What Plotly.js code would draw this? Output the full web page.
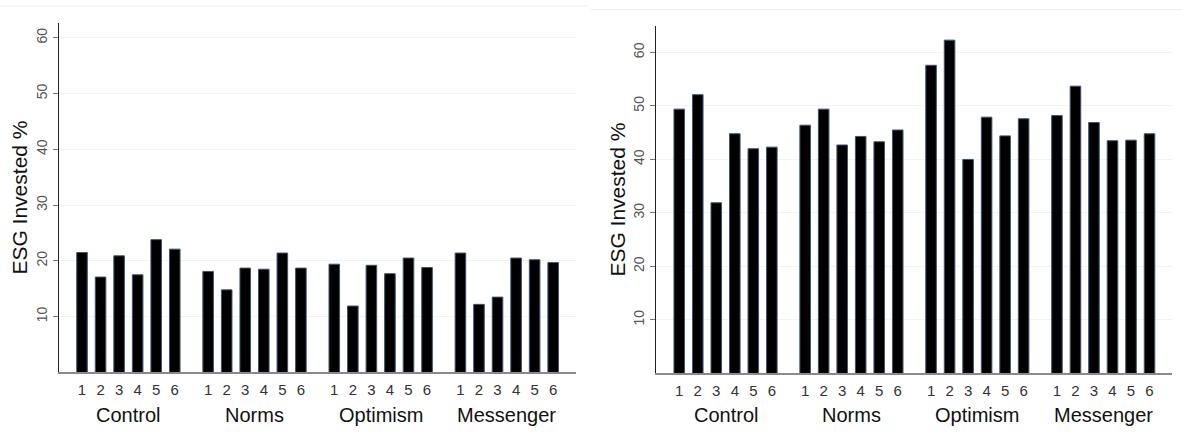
<!DOCTYPE html>
<html>
<head>
<meta charset="utf-8">
<script src="https://cdn.plot.ly/plotly-3.0.1.min.js"></script>
<style>html,body{margin:0;padding:0;background:#fff;}#chart{width:1182px;height:435px;}</style>
</head>
<body>
<div id="chart"></div>
<script>
const groups = ["Control", "Norms", "Optimism", "Messenger"];
const barLabels = ["1", "2", "3", "4", "5", "6"];
const leftValues = [
  [21.5, 17.1, 20.9, 17.5, 23.8, 22.1],
  [18.1, 14.8, 18.7, 18.5, 21.4, 18.7],
  [19.4, 11.9, 19.2, 17.7, 20.5, 18.8],
  [21.4, 12.2, 13.5, 20.5, 20.2, 19.7]
];
const rightValues = [
  [49.4, 52.1, 31.9, 44.8, 42.0, 42.3],
  [46.4, 49.4, 42.7, 44.3, 43.3, 45.5],
  [57.6, 62.3, 40.0, 47.9, 44.4, 47.6],
  [48.2, 53.7, 46.9, 43.5, 43.6, 44.8]
];
const yTicks = [10, 20, 30, 40, 50, 60];
const yTitle = "ESG Invested %";

const GROUP_STEP = 6.8;
const W = 1182, H = 435;
const pos = [], tickText = [];
groups.forEach((g, gi) => barLabels.forEach((b, bi) => { pos.push(gi * GROUP_STEP + bi); tickText.push(b); }));
const flat = a => a.reduce((acc, r) => acc.concat(r), []);

const font = "Liberation Sans, Arial, sans-serif";
const barStyle = {color: "#000000", line: {color: "#3a5670", width: 1}};

const traces = [
  {type: "bar", x: pos, y: flat(leftValues), xaxis: "x", yaxis: "y", width: 0.57, marker: barStyle, hoverinfo: "y"},
  {type: "bar", x: pos, y: flat(rightValues), xaxis: "x2", yaxis: "y2", width: 0.57, marker: barStyle, hoverinfo: "y"}
];

const xRange = [-1.24, 3 * GROUP_STEP + 5 + 1.23];
function xAxis(domain, anchor) {
  return {
    domain: domain, anchor: anchor, range: xRange, tickvals: pos, ticktext: tickText,
    showgrid: false, zeroline: false, showline: true, linecolor: "#8a8a8a", linewidth: 2,
    ticks: "", tickfont: {family: font, size: 15, color: "#333"}, ticklabelstandoff: 3,
    fixedrange: true
  };
}
function yAxis(domain, anchor, top) {
  return {
    domain: domain, anchor: anchor, range: [0, top], tickvals: yTicks,
    tickangle: -90, tickfont: {family: font, size: 14, color: "#555"},
    ticks: "outside", ticklen: 5, tickcolor: "#777", tickwidth: 1,
    showline: true, linecolor: "#222", linewidth: 1.5,
    showgrid: true, gridcolor: "#eef3f3", gridwidth: 1, zeroline: false,
    title: {text: yTitle, font: {family: font, size: 21, color: "#111"}, standoff: 0},
    fixedrange: true
  };
}

const annotations = [];
groups.forEach((g, gi) => {
  ["x", "x2"].forEach(xr => annotations.push({
    text: g, x: gi * GROUP_STEP + 2.5, xref: xr, y: 1 - 415 / H, yref: "paper",
    showarrow: false, xanchor: "center", yanchor: "middle",
    font: {family: font, size: 20, color: "#111"}
  }));
});

const layout = {
  width: W, height: H, margin: {l: 0, r: 0, t: 0, b: 0},
  paper_bgcolor: "#fff", plot_bgcolor: "#fff", showlegend: false, bargap: 0,
  xaxis: xAxis([59 / W, 576 / W], "y"),
  yaxis: yAxis([1 - 372.4 / H, 1 - 22.7 / H], "x", 62.7),
  xaxis2: xAxis([656.3 / W, 1172.3 / W], "y2"),
  yaxis2: yAxis([1 - 373.4 / H, 1 - 25.7 / H], "x2", 65.0),
  annotations: annotations,
  shapes: [
    {type: "line", xref: "paper", yref: "paper", x0: 0, x1: 588 / W, y0: 1 - 6 / H, y1: 1 - 6 / H, line: {color: "#e6eded", width: 1}},
    {type: "line", xref: "paper", yref: "paper", x0: 591 / W, x1: 1, y0: 1 - 9.5 / H, y1: 1 - 9.5 / H, line: {color: "#e6eded", width: 1}}
  ]
};

Plotly.newPlot("chart", traces, layout, {displayModeBar: false, staticPlot: true});
</script>
</body>
</html>
